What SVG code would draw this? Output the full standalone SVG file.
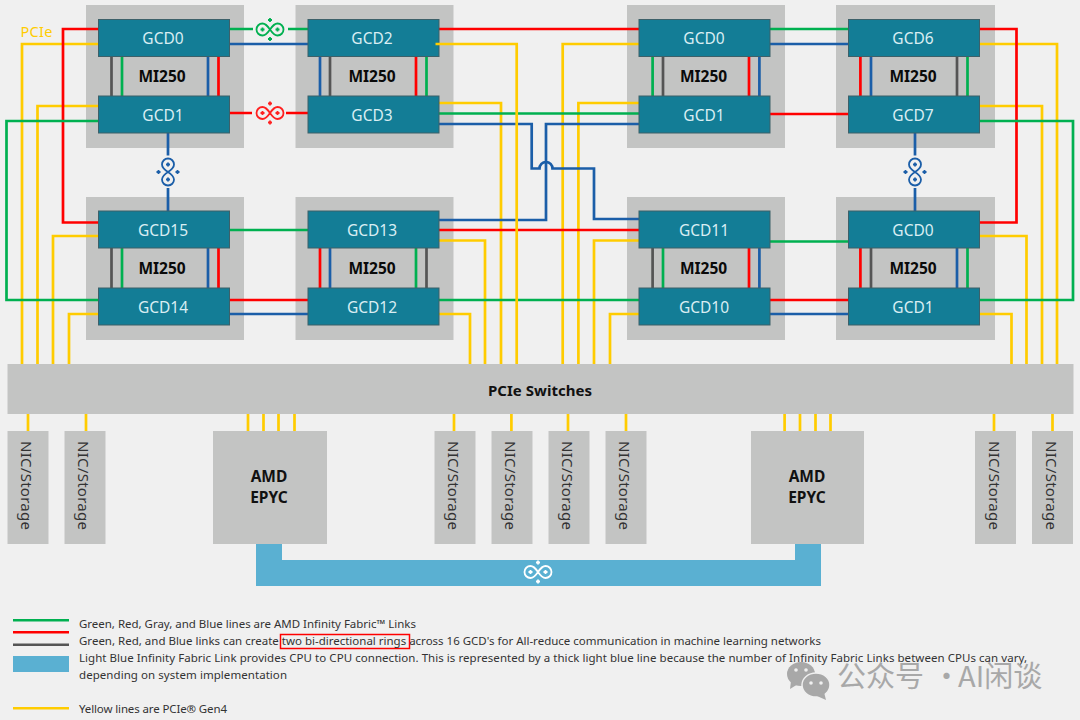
<svg xmlns="http://www.w3.org/2000/svg" width="1080" height="720" viewBox="0 0 1080 720">
<style>
text{font-family:"Noto Sans","Liberation Sans",sans-serif}
.panel{fill:#c3c4c3}
.chip{fill:#137d96;stroke:#3d6069;stroke-width:1}
.gl{fill:#d9eef3;font-size:15.5px;text-anchor:middle}
.mi{fill:#0a0a0a;font-size:15.5px;font-weight:700;text-anchor:middle}
.ln{fill:none;stroke-width:2.7}
.g{stroke:#00b050}.r{stroke:#ff0000}.b{stroke:#1b5ea8}.y{stroke:#ffcc00}.k{stroke:#555555}
.nic{fill:#c3c4c3}
.nt{fill:#333333;font-size:15px;text-anchor:middle}
.lg{fill:#333333;font-size:11.5px}
.ep{fill:#111111;font-size:15.5px;font-weight:700;text-anchor:middle}
</style>
<defs>
<g id="inf" fill="none" stroke="currentColor" stroke-width="1.8">
<path d="M0,0C-3,-4.500 -5,-6 -7.500,-6A6,6 0 0 0 -7.500,6C-5,6 -3,4.500 0,0C3,-4.500 5,-6 7.500,-6A6,6 0 0 1 7.500,6C5,6 3,4.500 0,0Z"/>
<path d="M-9.500,0h4M-7.500,-2v4M5.500,0h4M7.500,-2v4M-2,-9.500h4M0,-11.500v4M-2,9.500h4M0,7.500v4"/>
</g>
</defs>
<rect width="1080" height="720" fill="#f0f0f0"/>

<g id="panels">
<g id="mcm-1"><rect class="panel" x="86" y="5" width="158" height="143"/><text class="mi" x="162" y="82">MI250</text></g>
<g id="mcm-2"><rect class="panel" x="295.500" y="5" width="158" height="143"/><text class="mi" x="372" y="82">MI250</text></g>
<g id="mcm-3"><rect class="panel" x="627" y="5" width="158" height="143"/><text class="mi" x="703.500" y="82">MI250</text></g>
<g id="mcm-4"><rect class="panel" x="836" y="5" width="159" height="143"/><text class="mi" x="913" y="82">MI250</text></g>
<g id="mcm-5"><rect class="panel" x="86" y="197" width="158" height="143"/><text class="mi" x="162" y="274">MI250</text></g>
<g id="mcm-6"><rect class="panel" x="295.500" y="197" width="158" height="143"/><text class="mi" x="372" y="274">MI250</text></g>
<g id="mcm-7"><rect class="panel" x="627" y="197" width="158" height="143"/><text class="mi" x="703.500" y="274">MI250</text></g>
<g id="mcm-8"><rect class="panel" x="836" y="197" width="159" height="143"/><text class="mi" x="913" y="274">MI250</text></g>
</g>

<g id="switch"><rect x="7.500" y="364" width="1066" height="50" class="panel"/><text x="540" y="396" font-size="15" font-weight="700" fill="#111111" text-anchor="middle" textLength="104">PCIe Switches</text></g>

<g id="connectors">
<path class="ln k" d="M111.500,56V96M111.500,248V288M330,56V96M426.500,248V288M663,56V96M652.600,248V288M957,56V96M871,248V288"/>
<path class="ln g" d="M122,56V96M122,248V288M426.500,56V96M416,248V288M652.600,56V96M663,248V288M967.500,56V96M967.500,248V288"/>
<path class="ln b" d="M208,56V96M208,248V288M320,56V96M330,248V288M759.400,56V96M759.400,248V288M871,56V96M957,248V288"/>
<path class="ln r" d="M218.500,56V96M218.500,248V288M416,56V96M320,248V288M749,56V96M749,248V288M860.400,56V96M860.400,248V288"/>
<path class="ln y" d="M98,44H22V364M98,106H37.500V364M98,236H53V364M98,314H69V364"/>
<path class="ln y" d="M439,103H501V364M439,240.500H485V364M439,314H470V364"/>
<path class="ln y" d="M639,44H562.700V364M639,103H578.400V364M639,240.500H594V364M639,314H610V364"/>
<path class="ln y" d="M980,44H1057V364M980,106H1042V364M980,236H1026.500V364M980,314H1011.500V364"/>
<path class="ln y" d="M28,414V431M86,414V431M454,414V431M511.400,414V431M568,414V431M626,414V431M994,414V431M1052.500,414V431"/>
<path class="ln y" d="M248,414V431M263.500,414V431M278.500,414V431M294.500,414V431M784.600,414V431M800,414V431M815.500,414V431M830.500,414V431"/>
<path class="ln r" d="M98,29H63V222.500H98M439,29H639M980,29H1016.500V222.500H980M439,230H639M229,300H308M770,300H849M770,114H849M229,113H252M286,113H308"/>
<path class="ln g" d="M98,121H6.500V300H98M980,121H1073V300H980M439,113.500H639M439,300H639M770,29H849M229,230H308M770,241.500H849M229,29H253M288,29H308"/>
<path class="ln b" d="M229,44H308M770,44H849M229,314H308M770,314H849M168,133V155.500M168,188V211M915,133V155.500M915,188V211"/>
<path class="ln b" d="M439,124H531.700V168.500H539.500A6.500,6.500 0 0 1 552.500,168.500H594V219H639"/>
<path class="ln b" d="M439,220H546V124H639"/>
<use href="#inf" x="270" y="29.500" color="#00b050"/>
<use href="#inf" x="270" y="113" color="#ff2020"/>
<use href="#inf" transform="translate(168,172) rotate(90)" color="#1b5ea8"/>
<use href="#inf" transform="translate(915,172) rotate(90)" color="#1b5ea8"/>
<path d="M256,544H282V560H795V544H821V586H256Z" fill="#5ab0d2"/>
<use href="#inf" x="538" y="572" color="#ffffff"/>
</g>

<g id="gcd0-a"><rect class="chip" x="98.500" y="19.500" width="131" height="37"/><text class="gl" x="163" y="44">GCD0</text></g>
<g id="gcd1-a"><rect class="chip" x="98.500" y="96" width="131" height="37"/><text class="gl" x="163" y="120.500">GCD1</text></g>
<g id="gcd2"><rect class="chip" x="308" y="19.500" width="131" height="37"/><text class="gl" x="372" y="44">GCD2</text></g>
<g id="gcd3"><rect class="chip" x="308" y="96" width="131" height="37"/><text class="gl" x="372" y="120.500">GCD3</text></g>
<g id="gcd0-b"><rect class="chip" x="639" y="19.500" width="131" height="37"/><text class="gl" x="704" y="44">GCD0</text></g>
<g id="gcd1-b"><rect class="chip" x="639" y="96" width="131" height="37"/><text class="gl" x="704" y="120.500">GCD1</text></g>
<g id="gcd6"><rect class="chip" x="848.500" y="19.500" width="131" height="37"/><text class="gl" x="913" y="44">GCD6</text></g>
<g id="gcd7"><rect class="chip" x="848.500" y="96" width="131" height="37"/><text class="gl" x="913" y="120.500">GCD7</text></g>
<g id="gcd15"><rect class="chip" x="98.500" y="211" width="131" height="37"/><text class="gl" x="163" y="236">GCD15</text></g>
<g id="gcd14"><rect class="chip" x="98.500" y="288" width="131" height="37"/><text class="gl" x="163" y="312.500">GCD14</text></g>
<g id="gcd13"><rect class="chip" x="308" y="211" width="131" height="37"/><text class="gl" x="372" y="236">GCD13</text></g>
<g id="gcd12"><rect class="chip" x="308" y="288" width="131" height="37"/><text class="gl" x="372" y="312.500">GCD12</text></g>
<g id="gcd11"><rect class="chip" x="639" y="211" width="131" height="37"/><text class="gl" x="704" y="236">GCD11</text></g>
<g id="gcd10"><rect class="chip" x="639" y="288" width="131" height="37"/><text class="gl" x="704" y="312.500">GCD10</text></g>
<g id="gcd0-c"><rect class="chip" x="848.500" y="211" width="131" height="37"/><text class="gl" x="913" y="236">GCD0</text></g>
<g id="gcd1-c"><rect class="chip" x="848.500" y="288" width="131" height="37"/><text class="gl" x="913" y="312.500">GCD1</text></g>

<path id="gcd2-pcie" class="ln y" d="M435.500,44H516.700V364"/>

<g id="nic-1"><rect class="nic" x="7.500" y="431" width="41" height="113"/><text class="nt" transform="translate(26,485.500) rotate(90)" y="5" textLength="89">NIC/Storage</text></g>
<g id="nic-2"><rect class="nic" x="64.500" y="431" width="41" height="113"/><text class="nt" transform="translate(83,485.500) rotate(90)" y="5" textLength="89">NIC/Storage</text></g>
<g id="nic-3"><rect class="nic" x="434.500" y="431" width="41" height="113"/><text class="nt" transform="translate(453,485.500) rotate(90)" y="5" textLength="89">NIC/Storage</text></g>
<g id="nic-4"><rect class="nic" x="491.500" y="431" width="41" height="113"/><text class="nt" transform="translate(510,485.500) rotate(90)" y="5" textLength="89">NIC/Storage</text></g>
<g id="nic-5"><rect class="nic" x="548.500" y="431" width="41" height="113"/><text class="nt" transform="translate(567,485.500) rotate(90)" y="5" textLength="89">NIC/Storage</text></g>
<g id="nic-6"><rect class="nic" x="605.500" y="431" width="41" height="113"/><text class="nt" transform="translate(624,485.500) rotate(90)" y="5" textLength="89">NIC/Storage</text></g>
<g id="nic-7"><rect class="nic" x="975" y="431" width="41" height="113"/><text class="nt" transform="translate(994,485.500) rotate(90)" y="5" textLength="89">NIC/Storage</text></g>
<g id="nic-8"><rect class="nic" x="1032" y="431" width="41" height="113"/><text class="nt" transform="translate(1051,485.500) rotate(90)" y="5" textLength="89">NIC/Storage</text></g>

<g id="epyc-1"><rect class="nic" x="213" y="431" width="114" height="113"/><text class="ep" x="269" y="482">AMD</text><text class="ep" x="269" y="503">EPYC</text></g>
<g id="epyc-2"><rect class="nic" x="751" y="431" width="113" height="113"/><text class="ep" x="807" y="482">AMD</text><text class="ep" x="807" y="503">EPYC</text></g>

<text id="pcie-label" x="20.500" y="36.500" font-size="14.500" fill="#ffcc00" textLength="32">PCIe</text>

<g id="legend">
<rect x="13" y="619" width="56" height="2.500" fill="#00b050"/>
<rect x="13" y="631" width="56" height="2.500" fill="#ff0000"/>
<rect x="13" y="643.500" width="56" height="2.500" fill="#555555"/>
<rect x="13" y="656" width="56" height="16" fill="#5ab0d2"/>
<rect x="13" y="707" width="56" height="2.500" fill="#ffcc00"/>
<rect x="280.500" y="634.500" width="129" height="14" fill="none" stroke="#ff0000" stroke-width="1.500"/>
<text class="lg" x="79" y="628" textLength="337">Green, Red, Gray, and Blue lines are AMD Infinity Fabric™ Links</text>
<text class="lg" x="79" y="645" textLength="742">Green, Red, and Blue links can create two bi-directional rings across 16 GCD's for All-reduce communication in machine learning networks</text>
<text class="lg" x="79" y="662" textLength="948">Light Blue Infinity Fabric Link provides CPU to CPU connection. This is represented by a thick light blue line because the number of Infinity Fabric Links between CPUs can vary,</text>
<text class="lg" x="79" y="679" textLength="208">depending on system implementation</text>
<text class="lg" x="79" y="713" textLength="148">Yellow lines are PCIe® Gen4</text>
</g>

<g id="watermark" fill="#a8a8a8">
<ellipse cx="801" cy="674" rx="14" ry="12"/>
<path d="M791,681L790,689L798,684Z"/>
<ellipse cx="816" cy="685" rx="14" ry="12" stroke="#f0f0f0" stroke-width="1.500"/>
<path d="M824,692L826,700L817,696Z"/>
<circle cx="796" cy="670" r="1.800" fill="#f0f0f0"/><circle cx="806" cy="670" r="1.800" fill="#f0f0f0"/>
<circle cx="811" cy="683" r="1.800" fill="#f0f0f0"/><circle cx="821" cy="683" r="1.800" fill="#f0f0f0"/>
<text y="687" font-size="29" style="font-family:'Noto Sans CJK SC',sans-serif"><tspan x="837">公众号</tspan><tspan x="932">·</tspan><tspan x="958">AI闲谈</tspan></text>
</g>
</svg>
